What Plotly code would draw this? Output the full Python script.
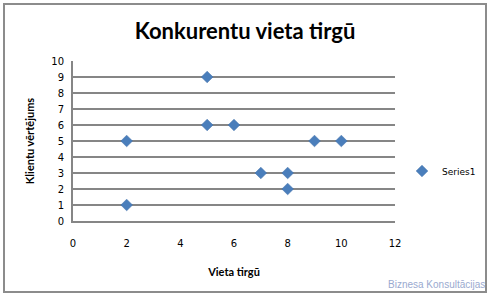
import plotly.graph_objects as go

x_vals = [2, 2, 5, 5, 6, 7, 8, 8, 9, 10]
y_vals = [1, 5, 9, 6, 6, 3, 3, 2, 5, 5]
series_name = "Series1"
title_text = "Konkurentu vieta tirgū"
x_title = "Vieta tirgū"
y_title = "Klientu vērtējums"
watermark = "Biznesa Konsultācijas"

L, R, T, B = 73, 96, 61, 76
W, H = 491, 297
pw, ph = W - L - R, H - T - B

def px(x):
    return (x - L) / pw

def py(y):
    return (H - B - y) / ph

fig = go.Figure()
fig.add_trace(go.Scatter(
    x=x_vals, y=y_vals, mode="markers", name=series_name,
    marker=dict(symbol="diamond", size=9, color="#4A7EBB",
                line=dict(width=0.5, color="#3E6FA8")),
))

fig.update_layout(
    width=W, height=H,
    margin=dict(l=L, r=R, t=T, b=B, autoexpand=False),
    paper_bgcolor="white", plot_bgcolor="white",
    title=dict(text=title_text, x=245 / W, xanchor="center", y=1 - 31 / H, yanchor="middle",
               font=dict(family="Lato", size=22, color="black", weight="bold")),
    showlegend=True,
    legend=dict(xref="container", yref="container", x=402 / W, y=1 - 171 / H,
                xanchor="left", yanchor="middle",
                font=dict(family="DejaVu Sans", size=9, color="black"),
                bgcolor="rgba(0,0,0,0)", itemwidth=30),
    xaxis=dict(range=[0, 12], dtick=2, showgrid=False, zeroline=False,
               showline=True, linecolor="#868686", linewidth=2,
               ticks="", ticklen=0, ticklabelstandoff=12,
               tickfont=dict(family="DejaVu Sans", size=10, color="black"),
               title=dict(text=x_title, standoff=20,
                          font=dict(family="Lato", size=11, color="black", weight="bold"))),
    yaxis=dict(range=[0, 10], dtick=1, showgrid=True, gridcolor="#868686", gridwidth=2,
               zeroline=False, showline=True, linecolor="#868686", linewidth=2,
               ticks="", ticklen=0, ticklabelstandoff=5,
               tickfont=dict(family="DejaVu Sans", size=10, color="black"),
               title=dict(text=y_title, standoff=14,
                          font=dict(family="Lato", size=11, color="black", weight="bold"))),
    shapes=[dict(type="rect", xref="paper", yref="paper",
                 x0=px(4), x1=px(486), y0=py(292), y1=py(4),
                 line=dict(color="#8C8C8C", width=2), fillcolor="rgba(0,0,0,0)", layer="below")],
    annotations=[dict(text=watermark, xref="paper", yref="paper",
                      x=px(487), y=py(284), xanchor="right", yanchor="middle", showarrow=False,
                      font=dict(family="Liberation Sans", size=10, color="#9AAAD0"))],
)

fig.write_html("out.html")
